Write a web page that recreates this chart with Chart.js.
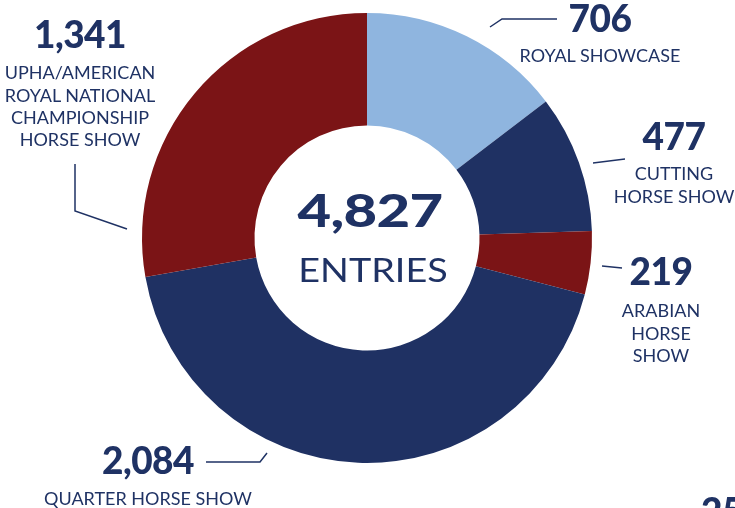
<!DOCTYPE html>
<html>
<head>
<meta charset="utf-8">
<script src="https://cdn.jsdelivr.net/npm/chart.js@4.4.0/dist/chart.umd.min.js"></script>
<style>
  html, body { margin: 0; padding: 0; background: #fff; }
  #wrap { position: relative; width: 735px; height: 508px; overflow: hidden; font-family: Lato, sans-serif; color: #1f3264; }
  #grafico { position: absolute; left: 0; top: 0; }
  #lineas { position: absolute; left: 0; top: 0; }
  .txt { position: absolute; white-space: nowrap; text-align: center; transform: translateX(-50%); }
  .num { font-weight: 900; font-size: 37px; line-height: 37px; letter-spacing: -0.5px; }
  .nom { font-weight: 400; font-size: 18px; line-height: 22.3px; }
</style>
</head>
<body>
<div id="wrap">
  <canvas id="grafico" width="735" height="508"></canvas>
  <svg id="lineas" width="735" height="508"></svg>
</div>
<script>
// Datos del gráfico (orden en el sentido de las agujas del reloj desde arriba)
const categorias = ['ROYAL SHOWCASE', 'CUTTING\nHORSE SHOW', 'ARABIAN\nHORSE\nSHOW', 'QUARTER HORSE SHOW', 'UPHA/AMERICAN\nROYAL NATIONAL\nCHAMPIONSHIP\nHORSE SHOW'];
const entradas = [706, 477, 219, 2084, 1341];
const colores = ['#8fb5df', '#1f3163', '#7b1416', '#1f3163', '#7b1416'];
const textoCentro = 'ENTRIES';

const total = entradas.reduce((a, b) => a + b, 0);

// Posición de las etiquetas: centro x, parte superior del número, parte superior del nombre
const posEtiquetas = [
    { x: 600, yNum: 5, yNom: 50 },
    { x: 674, yNum: 123, yNom: 168 },
    { x: 661, yNum: 258, yNom: 305 },
    { x: 148, yNum: 447, yNom: 493 },
    { x: 80, yNum: 21, yNom: 67 }
];

// Líneas guía
const lineasGuia = [
    [[490, 27], [502, 19], [557, 19]],
    [[593, 163], [625, 159]],
    [[602, 266], [622, 268]],
    [[206, 462], [260, 462], [267, 453]],
    [[75, 164], [75, 211], [127, 229]]
];

const ctxDona = document.getElementById('grafico').getContext('2d');
new Chart(ctxDona, {
    type: 'doughnut',
    data: {
        labels: categorias,
        datasets: [{
            data: entradas,
            backgroundColor: colores,
            borderWidth: 0,
            hoverOffset: 0,
            offset: 0
        }]
    },
    options: {
        responsive: false,
        animation: false,
        events: [],
        cutout: '50%',
        rotation: 0,
        layout: { padding: { left: 142, right: 143, top: 13, bottom: 45 } },
        plugins: {
            legend: { display: false },
            tooltip: { enabled: false },
            title: { display: false }
        }
    }
});

const wrap = document.getElementById('wrap');
function agregarTexto(html, clase, x, capTop, size, extra) {
    const d = document.createElement('div');
    d.className = 'txt ' + clase;
    d.innerHTML = html;
    d.style.left = x + 'px';
    d.style.top = (capTop - 0.17 * size) + 'px';
    if (extra) Object.assign(d.style, extra);
    wrap.appendChild(d);
    return d;
}

categorias.forEach((cat, i) => {
    const p = posEtiquetas[i];
    agregarTexto(entradas[i].toLocaleString('en-US'), 'num', p.x, p.yNum, 37);
    agregarTexto(cat.split('\n').join('<br>'), 'nom', p.x, p.yNom - 2.5, 18);
});

// Texto del centro
agregarTexto(total.toLocaleString('en-US'), 'num', 370, 195, 46,
    { fontSize: '46px', lineHeight: '46px', transform: 'translateX(-50%) scaleX(1.26)' });
agregarTexto(textoCentro, 'nom', 373, 259, 32,
    { fontSize: '32px', lineHeight: '32px', transform: 'translateX(-50%) scaleX(1.18)' });

// Número de página (cortado abajo a la derecha)
agregarTexto('25', 'num', 722, 498, 37);

const svg = document.getElementById('lineas');
lineasGuia.forEach(puntos => {
    const pl = document.createElementNS('http://www.w3.org/2000/svg', 'polyline');
    pl.setAttribute('points', puntos.map(p => p.join(',')).join(' '));
    pl.setAttribute('fill', 'none');
    pl.setAttribute('stroke', '#1f3264');
    pl.setAttribute('stroke-width', '1.5');
    svg.appendChild(pl);
});
</script>
</body>
</html>
